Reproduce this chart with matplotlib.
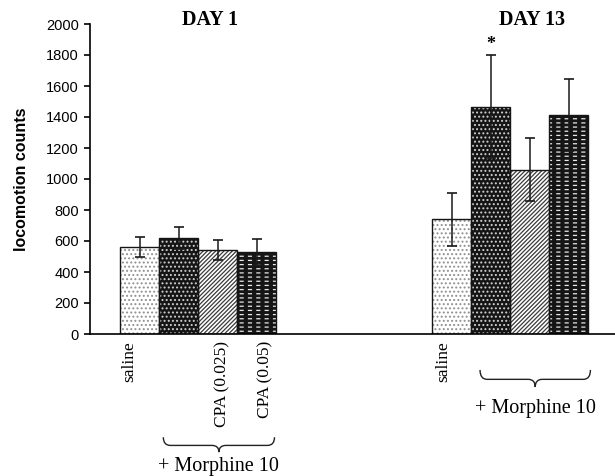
import numpy as np
import matplotlib
matplotlib.use("Agg")
import matplotlib.pyplot as plt
import matplotlib.transforms as mtransforms
from matplotlib.path import Path
from matplotlib.patches import PathPatch

# --- data ------------------------------------------------------
days = ["DAY 1", "DAY 13"]
treatments = ["saline", "morphine", "CPA (0.025)", "CPA (0.05)"]
day1_mean = [560, 620, 540, 530]
day1_err = [65, 72, 65, 84]
day13_mean = [740, 1467, 1060, 1415]
day13_err = [172, 333, 205, 233]
day1_labels = ["saline", "", "CPA (0.025)", "CPA (0.05)"]
day13_labels = ["saline", "", "", ""]
signif = ["", "", "", "", "", "*", "", ""]

SERIF = "Liberation Serif"
SANS = "Liberation Sans"

# bar styles: (face, hatch, hatch colour, overlay hatch)
styles = [
    ("white", "....", "#909090", None),
    ("#151515", "....", "#d0d0d0", None),
    ("white", "////////", "#3a3a3a", None),
    ("#151515", "----", "#e8e8e8", "||"),
]

fig = plt.figure(figsize=(6.15, 4.76), dpi=100)
ax = fig.add_axes([90 / 615, 142 / 476, 525 / 615, 310 / 476])

pos1 = np.arange(4)
pos13 = np.arange(4) + 8
positions = np.concatenate([pos1, pos13])
means = day1_mean + day13_mean
errs = day1_err + day13_err

for i, (x, m) in enumerate(zip(positions, means)):
    face, hatch, hcol, over = styles[i % 4]
    with plt.rc_context({"hatch.linewidth": 0.9}):
        ax.bar(x, m, width=1.0, color=face, edgecolor=hcol, hatch=hatch,
               linewidth=0, zorder=2)
    if over is not None:
        with plt.rc_context({"hatch.linewidth": 3.0}):
            ax.bar(x, m, width=1.0, color="none", edgecolor="#151515",
                   hatch=over, linewidth=0, zorder=2.1)
    ax.bar(x, m, width=1.0, color="none", edgecolor="#151515",
           linewidth=1.0, zorder=2.2)

ax.errorbar(positions, means, yerr=errs, fmt="none", ecolor="#1a1a1a",
            elinewidth=1.1, capsize=3.5, capthick=1.2, zorder=3)

for x, m, e, s in zip(positions, means, errs, signif):
    if s:
        ax.text(x, m + e + 10, s, ha="center", va="bottom", fontsize=13,
                fontweight="bold", family=SERIF)

ax.set_xlim(-1.28, 12.18)
ax.set_ylim(0, 2000)
ax.set_yticks(np.arange(0, 2001, 200))
ax.tick_params(axis="y", labelsize=10.5, length=4, width=1.2, direction="out", pad=4)
for lab in ax.get_yticklabels():
    lab.set_family(SANS)
ax.set_ylabel("locomotion counts", family=SANS, fontweight="bold",
              fontsize=11.5, labelpad=12)

# x labels, nudged a little like in the original
label_shift = [-0.28, 0, 0.12, 0.22, -0.22, 0, 0, 0]
ax.set_xticks(positions + np.array(label_shift))
ax.set_xticklabels(day1_labels + day13_labels, rotation=90, family=SERIF,
                   fontsize=12.5, va="top")
ax.tick_params(axis="x", length=0, pad=5)

for sp in ["top", "right"]:
    ax.spines[sp].set_visible(False)
ax.spines["left"].set_linewidth(1.2)
ax.spines["bottom"].set_linewidth(1.2)

trans = mtransforms.blended_transform_factory(ax.transData, ax.transAxes)

# titles
ax.text(pos1.mean() + 0.3, 1.013, days[0], transform=trans,
        ha="center", va="center", family=SERIF, fontweight="bold", fontsize=14.5)
ax.text(pos13.mean() + 0.55, 1.013, days[1], transform=trans,
        ha="center", va="center", family=SERIF, fontweight="bold", fontsize=14.5)


def brace(x0, x1, ytop, ybot, text_y):
    xm = (x0 + x1) / 2
    ymid = ytop + (ybot - ytop) * 0.55
    d = 0.18
    verts = [(x0, ytop), (x0, ymid), (x0 + d, ymid),
             (xm - d, ymid), (xm, ymid), (xm, ybot),
             (xm, ymid), (xm + d, ymid),
             (x1 - d, ymid), (x1, ymid), (x1, ytop)]
    codes = [Path.MOVETO, Path.CURVE3, Path.CURVE3,
             Path.LINETO, Path.CURVE3, Path.CURVE3,
             Path.CURVE3, Path.CURVE3,
             Path.LINETO, Path.CURVE3, Path.CURVE3]
    p = PathPatch(Path(verts, codes), transform=trans, fill=False,
                  lw=1.0, edgecolor="#222222", clip_on=False)
    ax.add_patch(p)
    ax.text(xm, text_y, "+ Morphine 10", transform=trans, ha="center",
            va="center", family=SERIF, fontsize=14.5)


brace(pos1[1] - 0.4, pos1[3] + 0.45, -0.333, -0.381, -0.428)
brace(pos13[1] - 0.28, pos13[3] + 0.55, -0.116, -0.171, -0.24)

fig.savefig("out.png", dpi=100)
